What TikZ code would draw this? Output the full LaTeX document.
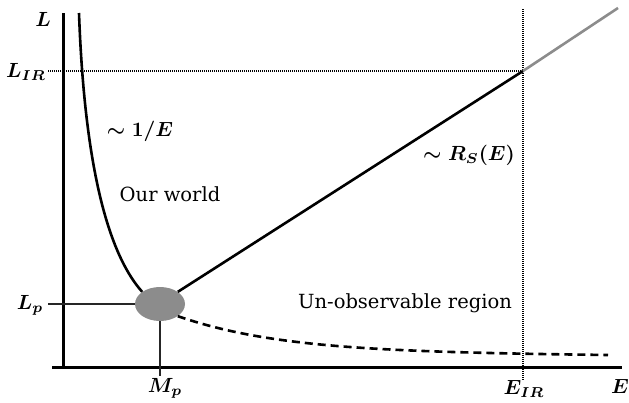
\documentclass[tikz,border=0pt]{standalone}
\usepackage{fontspec}
\setmainfont{DejaVu Serif}
\usetikzlibrary{shapes.geometric}
\begin{document}
\begin{tikzpicture}[x=1pt,y=-1pt,
  axis/.style={line width=3pt},
  curve/.style={line width=2.6pt},
  guide/.style={line width=1.3pt, dash pattern=on 1pt off 1pt},
  thin/.style={line width=1.4pt, draw=black!85},
  mlab/.style={font=\boldmath, inner sep=0pt, scale=2.05},
  tlab/.style={font=\fontsize{19.5}{20}\selectfont, inner sep=0pt}]
\useasboundingbox (0,0) rectangle (629,402);
% axes
\coordinate (ytop) at (63,13);
\coordinate (origin) at (63,367);
\coordinate (xleft) at (52,367);
\coordinate (xright) at (622,367);
\draw[axis] (ytop) -- (origin);
\draw[axis] (xleft) -- (xright);
% blob
\node[ellipse, fill=black!45, minimum width=50pt, minimum height=34pt, inner sep=0pt] (blob) at (160,304) {};
% guides
\coordinate (lirl) at (48,71);
\coordinate (irpt) at (523,71);
\coordinate (eirtop) at (523,9);
\coordinate (eirbot) at (523,381);
\draw[guide] (lirl) -- (irpt);
\draw[guide] (eirtop) -- (eirbot);
\coordinate (lpl) at (48,304);
\coordinate (mpb) at (160,376);
\draw[thin] (lpl) -- (blob.west);
\draw[thin] (blob.south) -- (mpb);
% curves
\coordinate (c1top) at (79,13);
\draw[curve] (c1top) .. controls (85,180) and (112,258) .. (blob.north west);
\coordinate (rsend) at (618,8);
\draw[curve] (blob.north east) -- (irpt);
\draw[curve, draw=black!45] (irpt) -- (rsend);
\coordinate (dend) at (608,355);
\draw[curve, dash pattern=on 8pt off 5pt] (blob.south east) .. controls (270,348) and (380,352) .. (dend);
% labels
\node[mlab] (lL) at (43,19) {$L$};
\node[mlab] (lLIR) at (26,72) {$L_{IR}$};
\node[mlab] (lLp) at (30,305) {$L_p$};
\node[mlab] (lMp) at (165,388) {$M_p$};
\node[mlab] (lEIR) at (524,389) {$E_{IR}$};
\node[mlab] (lE) at (620,386) {$E$};
\node[mlab] (linv) at (140,131) {$\sim 1/E$};
\node[mlab] (lrs) at (469,155) {$\sim R_S(E)$};
\node[tlab] (ow) at (170,194) {Our world};
\node[tlab] (ur) at (405,303) {Un-observable region};
\end{tikzpicture}
\end{document}
